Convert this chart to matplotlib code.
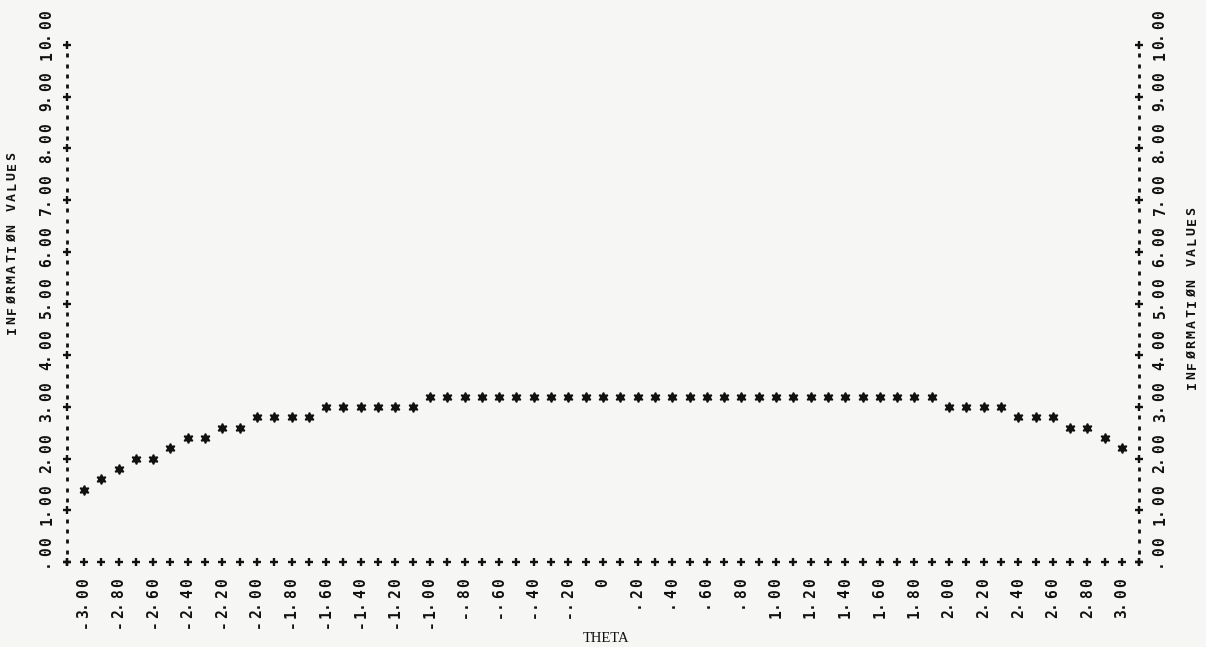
import matplotlib.pyplot as plt
import numpy as np

# theta grid (one printer line per 0.1)
theta = [-3.0, -2.9, -2.8, -2.7, -2.6, -2.5, -2.4, -2.3, -2.2, -2.1,
         -2.0, -1.9, -1.8, -1.7, -1.6, -1.5, -1.4, -1.3, -1.2, -1.1,
         -1.0, -0.9, -0.8, -0.7, -0.6, -0.5, -0.4, -0.3, -0.2, -0.1,
         0.0, 0.1, 0.2, 0.3, 0.4, 0.5, 0.6, 0.7, 0.8, 0.9,
         1.0, 1.1, 1.2, 1.3, 1.4, 1.5, 1.6, 1.7, 1.8, 1.9,
         2.0, 2.1, 2.2, 2.3, 2.4, 2.5, 2.6, 2.7, 2.8, 2.9, 3.0]

# information values
info = [1.4, 1.6, 1.8, 2.0, 2.0, 2.2, 2.4, 2.4, 2.6, 2.6,
        2.8, 2.8, 2.8, 2.8, 3.0, 3.0, 3.0, 3.0, 3.0, 3.0,
        3.2, 3.2, 3.2, 3.2, 3.2, 3.2, 3.2, 3.2, 3.2, 3.2,
        3.2, 3.2, 3.2, 3.2, 3.2, 3.2, 3.2, 3.2, 3.2, 3.2,
        3.2, 3.2, 3.2, 3.2, 3.2, 3.2, 3.2, 3.2, 3.2, 3.2,
        3.0, 3.0, 3.0, 3.0, 2.8, 2.8, 2.8, 2.6, 2.6, 2.4, 2.2]

xticks = [-3.0, -2.8, -2.6, -2.4, -2.2, -2.0, -1.8, -1.6, -1.4, -1.2, -1.0,
          -0.8, -0.6, -0.4, -0.2, 0.0, 0.2, 0.4, 0.6, 0.8, 1.0,
          1.2, 1.4, 1.6, 1.8, 2.0, 2.2, 2.4, 2.6, 2.8, 3.0]
xlabels = ['-3.00', '-2.80', '-2.60', '-2.40', '-2.20', '-2.00', '-1.80', '-1.60',
           '-1.40', '-1.20', '-1.00', '-.80', '-.60', '-.40', '-.20', '0',
           '.20', '.40', '.60', '.80', '1.00', '1.20', '1.40', '1.60', '1.80',
           '2.00', '2.20', '2.40', '2.60', '2.80', '3.00']
yticks = [0, 1, 2, 3, 4, 5, 6, 7, 8, 9, 10]
ylabels = ['.00', '1.00', '2.00', '3.00', '4.00', '5.00', '6.00', '7.00',
           '8.00', '9.00', '10.00']
ytitle = 'INFØRMATIØN VALUES'

ink = '#111111'
paper = '#f6f6f4'
mono = 'DejaVu Sans Mono'
pitch = 7.4   # printer character pitch in points (about 10.3 px)

fig = plt.figure(figsize=(12.06, 6.47), dpi=100)
fig.patch.set_facecolor(paper)
ax = fig.add_axes([0, 0, 1, 1])
ax.set_facecolor(paper)
ax.set_xlim(-3.4855, 3.4855)
ax.set_ylim(-1.64, 10.87)
ax.axis('off')


def printed(x, y, s, anchor, coords='data', size=10.5):
    # one character at a time, reading upward, char number `anchor` sits on (x, y)
    for i, ch in enumerate(s):
        dx = -2.5 if ch == '.' else 0   # pull the period in off the baseline
        ax.annotate(ch, (x, y), xycoords=coords, xytext=(dx, (i - anchor) * pitch),
                    textcoords='offset points', rotation=90, ha='center', va='center',
                    family=mono, fontweight='bold', fontsize=size, color=ink)


# printer axes: '+' at integers, '-' between (page is turned)
ycol = np.round(np.arange(0, 10.01, 0.2), 1)
yplus = [v for v in ycol if abs(v - round(v)) < 1e-6]
ydash = [v for v in ycol if abs(v - round(v)) > 1e-6]
for xa in (-3.1, 3.1):
    ax.plot([xa] * len(ydash), ydash, ls='none', marker='|', ms=3.2, mew=2.0, color=ink)
    ax.plot([xa] * len(yplus), yplus, ls='none', marker='+', ms=6, mew=1.7, color=ink)

# bottom row of '+'
xrow = np.round(np.arange(-3.1, 3.11, 0.1), 1)
ax.plot(xrow, np.zeros(len(xrow)), ls='none', marker='+', ms=6, mew=1.7, color=ink)

# data points
ax.plot(theta, info, ls='none', marker=(6, 1, 0), ms=7, mew=1.1, color=ink)

# theta labels: last character just under the bottom row
for xv, lab in zip(xticks, xlabels):
    printed(xv, -0.4, lab, len(lab) - 1)

# info labels on both sides
for yv, lab in zip(yticks, ylabels):
    k = min(lab.index('.'), 1)
    printed(-3.215, yv, lab, k)
    printed(3.22, yv, lab, k)

printed(12 / 1206, 1 - 243 / 647, ytitle, (len(ytitle) - 1) / 2, coords='figure fraction', size=9.5)
printed(1192 / 1206, 1 - 298 / 647, ytitle, (len(ytitle) - 1) / 2, coords='figure fraction', size=9.5)

fig.text(606 / 1206, 1 - 638 / 647, 'THETA', ha='center', va='center',
         family='Liberation Serif', fontsize=10.5, color=ink)

fig.savefig('out.png', dpi=100, facecolor=fig.get_facecolor())
